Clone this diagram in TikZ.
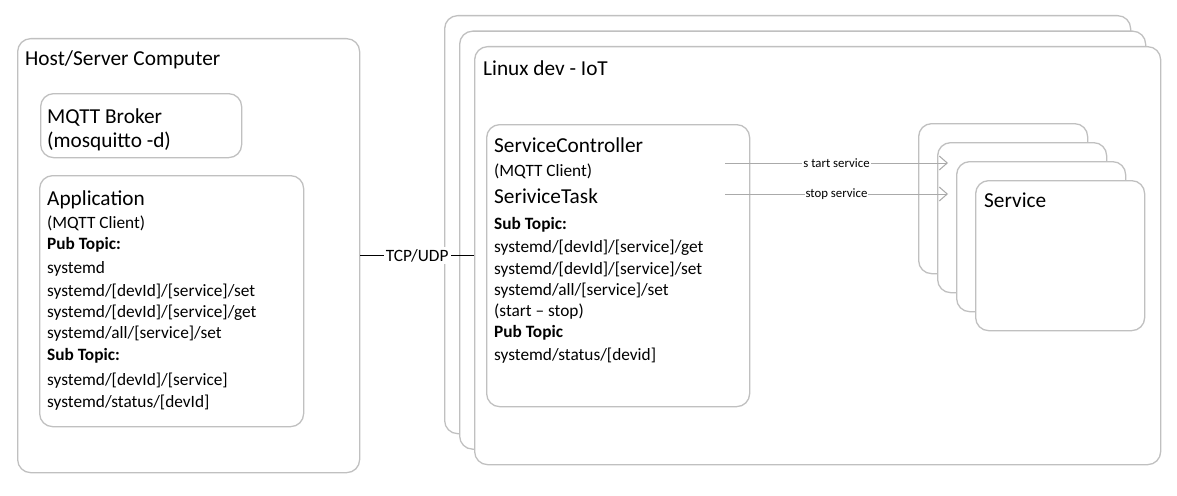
\documentclass[tikz,border=0pt]{standalone}
\usepackage{fontspec}
\setmainfont{Carlito}
\usetikzlibrary{arrows.meta}
\definecolor{boxgray}{RGB}{192,192,192}
\definecolor{arrowgray}{RGB}{170,170,170}
\tikzset{
	box/.style={draw=boxgray, line width=1.3pt, rounded corners=13pt, fill=white, anchor=north west},
	big/.style={anchor=base west, inner sep=0pt, font=\fontsize{21.3}{25}\selectfont},
	txt/.style={anchor=base west, inner sep=0pt, font=\fontsize{17.3}{21}\selectfont},
	lbl/.style={fill=white, inner sep=1pt, font=\fontsize{12.8}{15}\selectfont},
	msg/.style={draw=arrowgray, line width=1pt, -{Straight Barb[length=8pt,width=14pt]}},
}
\begin{document}
\begin{tikzpicture}[x=1pt, y=-1pt]
\useasboundingbox (0,0) rectangle (1177,495);

\node[box, minimum width=342pt, minimum height=434pt] (host) at (17,38) {};
\node[big] (hostname) at (25,66) {Host/Server Computer};

\node[box, minimum width=201pt, minimum height=64pt] (broker) at (40,93) {};
\node[big] (broker1) at (47,123) {MQTT Broker};
\node[big] (broker2) at (47,147) {(mosquitto -d)};

\node[box, minimum width=264pt, minimum height=251pt] (app) at (39,175) {};
\node[big] (appname) at (47,205) {Application};
\foreach[count=\i] \y/\t in {
	228/{(MQTT Client)}, 249/{\textbf{Pub Topic:}}, 273/{systemd},
	296/{systemd/[devId]/[service]/set}, 317/{systemd/[devId]/[service]/get},
	338/{systemd/all/[service]/set}, 360/{\textbf{Sub Topic:}},
	385/{systemd/[devId]/[service]}, 407/{systemd/status/[devId]}%
}{
	\node[txt] (app\i) at (47,\y) {\t};
}

\foreach \i in {0,1,2}{
	\node[box, minimum width=686pt, minimum height=418pt] (linux\i) at ({444+15*\i},{15+15.5*\i}) {};
}
\node[big] (linuxname) at (483,75) {Linux dev - IoT};

\node[box, minimum width=263pt, minimum height=282pt] (ctrl) at (486,124) {};
\node[big] (ctrlname) at (494,152) {ServiceController};
\node[txt] (ctrl0) at (494,176) {(MQTT Client)};
\node[big] (task) at (494,203) {SeriviceTask};
\foreach[count=\i] \y/\t in {
	229/{\textbf{Sub Topic:}}, 252/{systemd/[devId]/[service]/get},
	274/{systemd/[devId]/[service]/set}, 295/{systemd/all/[service]/set},
	316/{(start -- stop)}, 337/{\textbf{Pub Topic}}, 360/{systemd/status/[devid]}%
}{
	\node[txt] (ctrl\i) at (494,\y) {\t};
}

\foreach \i in {0,...,3}{
	\node[box, minimum width=169pt, minimum height=150pt] (svc\i) at ({918+19*\i},{123+19*\i}) {};
}
\node[big] (svcname) at (984,207) {Service};

\draw[line width=1pt] (host.east) -- node[fill=white, inner sep=2pt, font=\fontsize{17.3}{21}\selectfont] (tcp) {TCP/UDP} (linux2.west);

\coordinate (start1) at (725,163);
\coordinate (end1) at (948,163);
\coordinate (start2) at (725,194);
\coordinate (end2) at (948,194);
\draw[msg] (start1) -- node[lbl] (lstart) {s tart service} (end1);
\draw[msg] (start2) -- node[lbl] (lstop) {stop service} (end2);
\end{tikzpicture}
\end{document}
